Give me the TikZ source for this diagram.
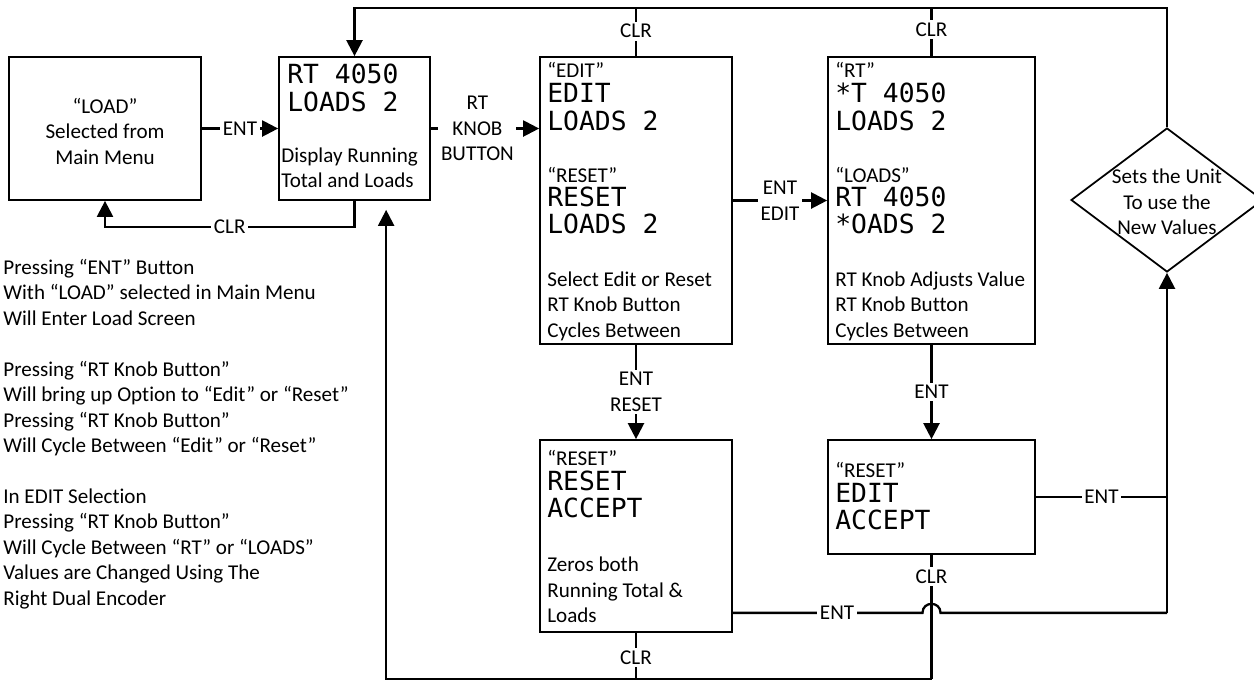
\documentclass[tikz,border=0pt]{standalone}
\usepackage{fontspec}
\setmainfont{Carlito}[Ligatures=NoCommon]
\newfontfamily\lcdfont{DejaVu Sans Mono}
\usetikzlibrary{arrows.meta,shapes.geometric,calc}
\begin{document}
\begin{tikzpicture}[x=0.02cm,y=-0.02cm,
  box/.style={draw,line width=1pt,inner sep=0pt},
  conn/.style={line width=1.3pt},
  arr/.style={conn,-{Triangle[length=0.32cm,width=0.32cm]}},
  lbl/.style={fill=white,inner sep=1.5pt,align=center,font=\fontsize{12}{14.5}\selectfont},
  txt/.style={inner sep=0pt,font=\fontsize{12}{14.5}\selectfont},
  lcd/.style={inner sep=0pt,anchor=base west,font=\lcdfont\fontsize{15}{16}\selectfont}]
\useasboundingbox (0,0) rectangle (1254,681);

% boxes
\node[box,minimum width=3.84cm,minimum height=2.86cm] (b1) at (105,128.5) {};
\node[box,minimum width=3.02cm,minimum height=2.86cm] (b2) at (354.5,128.5) {};
\node[box,minimum width=3.84cm,minimum height=5.74cm] (b3) at (636,200.5) {};
\node[box,minimum width=4.14cm,minimum height=5.74cm] (b4) at (931.5,200.5) {};
\node[box,minimum width=3.84cm,minimum height=3.84cm] (b5) at (636,536) {};
\node[box,minimum width=4.14cm,minimum height=2.28cm] (b6) at (931.5,497) {};
\node[draw,diamond,line width=1pt,inner sep=0pt,minimum width=3.84cm,minimum height=2.88cm] (dia) at (1167,200) {};

% box texts
\node[txt,align=center] (t1) at (105,131) {“LOAD”\\Selected from\\Main Menu};
\node[lcd] (l2a) at (287,83) {RT 4050};
\node[lcd] (l2b) at (287,111) {LOADS 2};
\node[txt,align=left,anchor=west] (t2) at (281,168) {Display Running\\Total and Loads};

\node[txt,anchor=base west] (q3a) at (547,77) {“EDIT”};
\node[lcd] (l3a) at (547,102) {EDIT};
\node[lcd] (l3b) at (547,130) {LOADS 2};
\node[txt,anchor=base west] (q3b) at (547,182) {“RESET”};
\node[lcd] (l3c) at (547,206) {RESET};
\node[lcd] (l3d) at (547,233) {LOADS 2};
\node[txt,align=left,anchor=west] (t3) at (547,306) {Select Edit or Reset\\RT Knob Button\\Cycles Between};

\node[txt,anchor=base west] (q4a) at (835,77) {“RT”};
\node[lcd] (l4a) at (835,102) {*T 4050};
\node[lcd] (l4b) at (835,130) {LOADS 2};
\node[txt,anchor=base west] (q4b) at (835,182) {“LOADS”};
\node[lcd] (l4c) at (835,206) {RT 4050};
\node[lcd] (l4d) at (835,233) {*OADS 2};
\node[txt,align=left,anchor=west] (t4) at (835,306) {RT Knob Adjusts Value\\RT Knob Button\\Cycles Between};

\node[txt,anchor=base west] (q5) at (547,465) {“RESET”};
\node[lcd] (l5a) at (547,490) {RESET};
\node[lcd] (l5b) at (547,517) {ACCEPT};
\node[txt,align=left,anchor=west] (t5) at (547,590) {Zeros both\\Running Total \&\\Loads};

\node[txt,anchor=base west] (q6) at (835,477) {“RESET”};
\node[lcd] (l6a) at (835,502) {EDIT};
\node[lcd] (l6b) at (835,529) {ACCEPT};

\node[txt,align=center] (td) at (1167,202) {Sets the Unit\\To use the\\New Values};

% notes at left
\node[txt,align=left,anchor=west] (notes) at (3,434) {Pressing “ENT” Button\\With “LOAD” selected in Main Menu\\Will Enter Load Screen\\[14.5pt]
Pressing “RT Knob Button”\\Will bring up Option to “Edit” or “Reset”\\Pressing “RT Knob Button”\\Will Cycle Between “Edit” or “Reset”\\[14.5pt]
In EDIT Selection\\Pressing “RT Knob Button”\\Will Cycle Between “RT” or “LOADS”\\Values are Changed Using The\\Right Dual Encoder};

% helper coordinates
\coordinate (toprow) at (0,8);
\coordinate (botrow) at (0,679);
\coordinate (b2in) at ($(b2.south west)+(108,0)$);
\coordinate (b5e) at ($(b5.south east)+(0,-20)$);
\coordinate (br) at (dia.south |- b5e);
\coordinate (j6) at (dia.south |- b6.east);
\coordinate (hopL) at ($(b6.south |- b5e)+(-9,0)$);
\coordinate (hopR) at ($(b6.south |- b5e)+(9,0)$);

% connectors
\draw[arr] (b1.east) -- (b2.west) node[midway,lbl] {ENT};
\draw[arr] (b2.south) -- ++(0,26) -| (b1.south) node[pos=0.25,lbl] {CLR};
\draw[arr] (b2.east) -- (b3.west |- b2.east) node[pos=0.43,lbl] {RT\\KNOB\\BUTTON};
\draw[arr] (dia.north) |- (b2.north |- toprow) -- (b2.north);
\draw[conn] (b3.north) -- (b3.north |- toprow) node[pos=0.52,lbl] {CLR};
\draw[conn] (b4.north) -- (b4.north |- toprow) node[pos=0.55,lbl] {CLR};
\draw[arr] (b3.east) -- (b4.west |- b3.east) node[midway,lbl] {ENT\\EDIT};
\draw[arr] (b3.south) -- (b5.north) node[midway,lbl] {ENT\\RESET};
\draw[arr] (b4.south) -- (b6.north |- b5.north) node[midway,lbl] {ENT};
\draw[conn] (b6.east) -- (j6) node[midway,lbl] {ENT};
\draw[arr] (br) -- (dia.south);
\draw[conn] (b5e) -- (hopL) .. controls ($(hopL)+(0,-12)$) and ($(hopR)+(0,-12)$) .. (hopR) -- (br);
\node[lbl] (e5) at ($(b5e)!0.24!(br)$) {ENT};
\draw[conn] (b6.south) -- (b6.south |- botrow);
\node[lbl] (c6) at ($(b6.south)+(0,22)$) {CLR};
\draw[conn] (b5.south) -- (b5.south |- botrow) node[pos=0.53,lbl] {CLR};
\draw[arr,shorten >=0.18cm] (b6.south |- botrow) -| (b2in);
\end{tikzpicture}
\end{document}
